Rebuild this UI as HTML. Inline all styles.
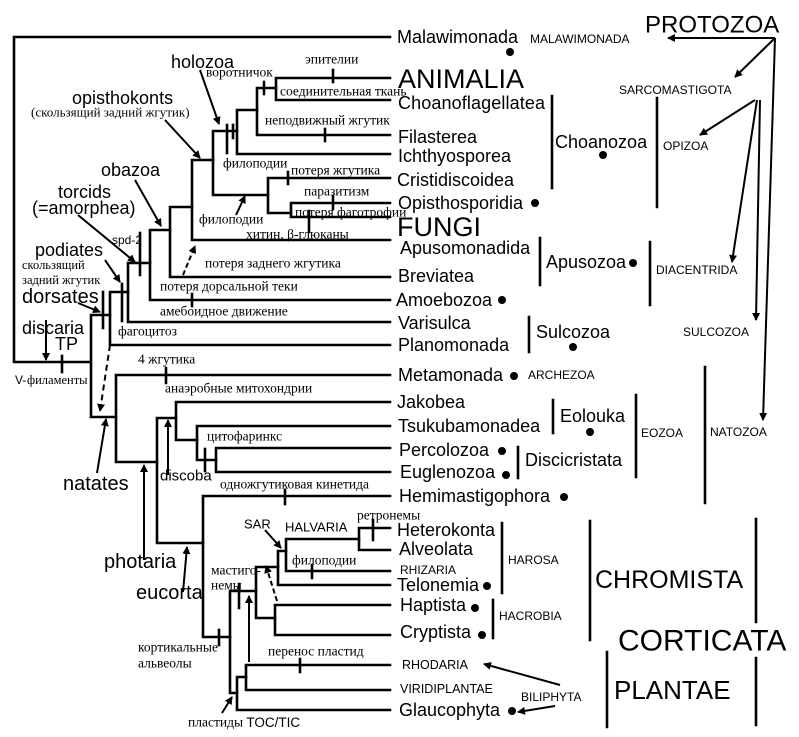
<!DOCTYPE html>
<html><head><meta charset="utf-8"><style>
html,body{margin:0;padding:0;background:#fff}
svg{display:block}
.s{font-family:"Liberation Sans",sans-serif;fill:#000}
.r{font-family:"Liberation Serif",serif;font-size:13.5px;fill:#000}
</style></head><body>
<svg width="799" height="737" viewBox="0 0 799 737" xmlns="http://www.w3.org/2000/svg">
<defs><marker id="a" markerWidth="8" markerHeight="8" refX="7" refY="4" orient="auto" markerUnits="userSpaceOnUse"><path d="M0,0 L8,4 L0,8 Z" fill="#000"/></marker></defs>
<g stroke="#000" stroke-width="2.6" fill="none" stroke-linecap="square">
<path d="M390,37 H14 V362 H90"/>
<path d="M390,78 H276 V100 H390"/>
<path d="M333,70 V82"/>
<path d="M276,88 H257 V135 H390"/><path d="M264,82 V94"/><path d="M325,129 V141"/>
<path d="M257,110 H237 V154 H390"/>
<path d="M237,131 H213 V195 H268"/><path d="M227,125 V153"/><path d="M233,125 V138"/>
<path d="M390,178 H268 V213 H291"/><path d="M288,172 V184"/>
<path d="M390,203 H291 V217 H390"/><path d="M333,196 V209"/><path d="M309,211 V232"/>
<path d="M213,160 H192 V240 H390"/>
<path d="M192,207 H170 V277 H390"/>
<path d="M170,230 H150 V300 H390"/><path d="M192,294 V306"/>
<path d="M150,263 H128 V322 H390"/><path d="M140,233 V275"/>
<path d="M128,292 H110 V345 H390"/><path d="M122,284 V321"/>
<path d="M110,315 H91 V417 H116"/><path d="M103,292 V328"/>
<path d="M62,356 V372"/>
<path d="M390,375 H116 V462 H157"/><path d="M166,368 V383"/>
<path d="M176,418 H157 V543 H203"/>
<path d="M390,402 H176 V440 H197"/>
<path d="M390,426 H197 V460 H216"/><path d="M205,449 V471"/>
<path d="M390,448 H216 V472 H390"/>
<path d="M390,496 H203 V637 H230"/><path d="M285,490 V504"/><path d="M219,630 V645"/>
<path d="M256,591 H230 V693 H237"/><path d="M239,584 V608"/>
<path d="M278,567 H256 V618 H275"/>
<path d="M286,551 H278 V585 H390"/>
<path d="M359,539 H286 V571 H390"/><path d="M312,565 V578"/>
<path d="M390,528 H359 V550 H390"/><path d="M373,520 V540"/>
<path d="M390,605 H275 V635 H390"/>
<path d="M246,677 H237 V710 H390"/>
<path d="M390,665 H246 V690 H390"/><path d="M300,659 V672"/>
<path d="M552,96 V188"/><path d="M657,98 V207"/>
<path d="M540,238 V285"/><path d="M650,242 V305"/>
<path d="M529,317 V352"/>
<path d="M553,400 V433"/><path d="M636,395 V477"/><path d="M705,367 V503"/>
<path d="M518,447 V478"/>
<path d="M502,523 V593"/><path d="M493,600 V638"/>
<path d="M590,521 V640"/><path d="M756,519 V622"/>
<path d="M607,652 V727"/><path d="M756,658 V725"/>
</g>
<g stroke="#000" stroke-width="2" fill="none" marker-end="url(#a)">
<path d="M775,38 L668,38"/>
<path d="M775,38 L735,77"/>
<path d="M775,38 L763,420"/>
<path d="M755,100 L700,135"/>
<path d="M757,100 L732,262"/>
<path d="M760,100 L756,320"/>
<path d="M560,685 L484,664"/>
<path d="M555,706 L518,712"/>
<path d="M200,70 L219,124"/>
<path d="M165,120 L200,158"/>
<path d="M236,215 L245,196"/>
<path d="M135,180 L161,226"/>
<path d="M78,215 L135,262"/>
<path d="M105,260 L120,282"/>
<path d="M78,303 L100,312"/>
<path d="M46,320 L46,360"/>
<path d="M97,473 L106,419"/>
<path d="M144,560 L144,465"/>
<path d="M168,475 L168,420"/>
<path d="M183,592 L187,547"/>
<path d="M249,662 L249,596"/>
<path d="M265,530 L281,548"/>
<path d="M222,713 L232,697"/>
<path d="M183,275 L195,246" stroke-dasharray="5,3"/>
<path d="M110,345 L100,411" stroke-dasharray="6,4"/>
<path d="M277,601 L266,566" stroke-dasharray="5,3"/>
</g>
<g fill="#000">
<circle cx="510" cy="52" r="4"/><circle cx="603" cy="155" r="4"/><circle cx="535" cy="203" r="4"/>
<circle cx="633" cy="263" r="4"/><circle cx="502" cy="300" r="4"/><circle cx="573" cy="347" r="4"/>
<circle cx="514" cy="376" r="4"/><circle cx="590" cy="432" r="4"/><circle cx="502" cy="451" r="4"/>
<circle cx="506" cy="475" r="4"/><circle cx="564" cy="497" r="4"/><circle cx="487" cy="586" r="4"/>
<circle cx="475" cy="608" r="4"/><circle cx="482" cy="635" r="4"/><circle cx="512" cy="711" r="4"/>
</g>
<g class="s" font-size="18" dominant-baseline="central">
<text x="397" y="37">Malawimonada</text>
<text x="398" y="79" font-size="27">ANIMALIA</text>
<text x="398" y="103" textLength="147">Choanoflagellatea</text>
<text x="398" y="137">Filasterea</text>
<text x="398" y="156">Ichthyosporea</text>
<text x="397" y="180">Cristidiscoidea</text>
<text x="398" y="203">Opisthosporidia</text>
<text x="397" y="227" font-size="27">FUNGI</text>
<text x="400" y="248">Apusomonadida</text>
<text x="398" y="276">Breviatea</text>
<text x="396" y="300">Amoebozoa</text>
<text x="398" y="323">Varisulca</text>
<text x="398" y="345">Planomonada</text>
<text x="398" y="375">Metamonada</text>
<text x="397" y="402">Jakobea</text>
<text x="398" y="426">Tsukubamonadea</text>
<text x="399" y="450">Percolozoa</text>
<text x="400" y="472">Euglenozoa</text>
<text x="399" y="496">Hemimastigophora</text>
<text x="397" y="530">Heterokonta</text>
<text x="399" y="549">Alveolata</text>
<text x="400" y="570" font-size="12">RHIZARIA</text>
<text x="397" y="585">Telonemia</text>
<text x="400" y="605">Haptista</text>
<text x="400" y="632">Cryptista</text>
<text x="402" y="665" font-size="12.5">RHODARIA</text>
<text x="400" y="689" font-size="12.5">VIRIDIPLANTAE</text>
<text x="399" y="710">Glaucophyta</text>
<text x="645" y="25" font-size="24">PROTOZOA</text>
<text x="530" y="39" font-size="12">MALAWIMONADA</text>
<text x="619" y="90" font-size="12">SARCOMASTIGOTA</text>
<text x="555" y="142">Choanozoa</text>
<text x="663" y="146" font-size="12">OPIZOA</text>
<text x="546" y="262">Apusozoa</text>
<text x="656" y="270" font-size="12">DIACENTRIDA</text>
<text x="536" y="332">Sulcozoa</text>
<text x="683" y="332" font-size="12">SULCOZOA</text>
<text x="528" y="375" font-size="12">ARCHEZOA</text>
<text x="560" y="416">Eolouka</text>
<text x="641" y="433" font-size="12">EOZOA</text>
<text x="710" y="432" font-size="12">NATOZOA</text>
<text x="525" y="460">Discicristata</text>
<text x="508" y="560" font-size="12">HAROSA</text>
<text x="499" y="616" font-size="12">HACROBIA</text>
<text x="595" y="580" font-size="25">CHROMISTA</text>
<text x="618" y="641" font-size="30">CORTICATA</text>
<text x="521" y="697" font-size="12">BILIPHYTA</text>
<text x="614" y="690" font-size="26">PLANTAE</text>
<text x="171" y="62" font-size="18">holozoa</text>
<text x="72" y="98" font-size="18">opisthokonts</text>
<text x="101" y="170" font-size="18">obazoa</text>
<text x="58" y="192" font-size="18">torcids</text>
<text x="32" y="208" font-size="18">(=amorphea)</text>
<text x="112" y="240" font-size="12">spd-2</text>
<text x="35" y="250" font-size="18">podiates</text>
<text x="22" y="297" font-size="20">dorsates</text>
<text x="22" y="328" font-size="18">discaria</text>
<text x="55" y="344" font-size="18">TP</text>
<text x="63" y="484" font-size="20">natates</text>
<text x="160" y="476" font-size="15">discoba</text>
<text x="104" y="562" font-size="20">photaria</text>
<text x="136" y="593" font-size="20">eucorta</text>
<text x="244" y="524" font-size="13">SAR</text>
<text x="285" y="527" font-size="13">HALVARIA</text>
<text x="15" y="380" font-size="12">V-</text>
</g>
<g class="r" dominant-baseline="central">
<text x="206" y="72">воротничок</text>
<text x="305" y="59">эпителии</text>
<text x="280" y="91">соединительная ткань</text>
<text x="265" y="120">неподвижный жгутик</text>
<text x="31" y="112" font-size="13">(скользящий задний жгутик)</text>
<text x="223" y="163">филоподии</text>
<text x="291" y="170">потеря жгутика</text>
<text x="304" y="191">паразитизм</text>
<text x="295" y="212">потеря фаготрофии</text>
<text x="246" y="234">хитин, β-глюканы</text>
<text x="199" y="219">филоподии</text>
<text x="205" y="263">потеря заднего жгутика</text>
<text x="160" y="286">потеря дорсальной теки</text>
<text x="160" y="311">амебоидное движение</text>
<text x="22" y="265" font-size="12.5">скользящий</text>
<text x="22" y="280" font-size="12.5">задний жгутик</text>
<text x="118" y="331">фагоцитоз</text>
<text x="138" y="359">4 жгутика</text>
<text x="27" y="380" font-size="12.5">филаменты</text>
<text x="165" y="388">анаэробные митохондрии</text>
<text x="207" y="436">цитофаринкс</text>
<text x="220" y="484">одножгутиковая кинетида</text>
<text x="357" y="515">ретронемы</text>
<text x="292" y="560">филоподии</text>
<text x="211" y="570">мастиго-</text>
<text x="211" y="585">немы</text>
<text x="138" y="647">кортикальные</text>
<text x="138" y="663">альвеолы</text>
<text x="268" y="651">перенос пластид</text>
<text x="188" y="722">пластиды <tspan font-family="Liberation Sans">TOC/TIC</tspan></text>
</g>
</svg>
</body></html>
